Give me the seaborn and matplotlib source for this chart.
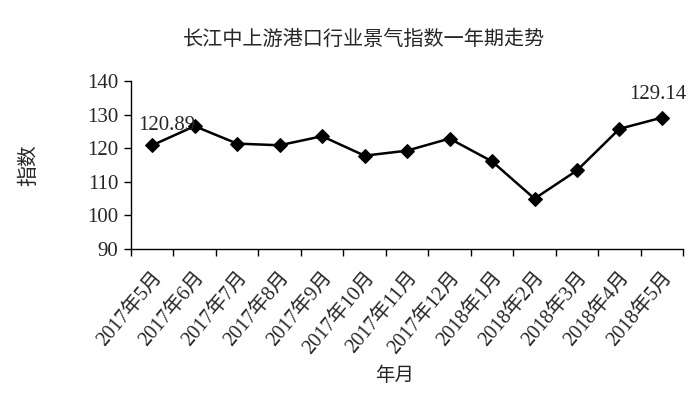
import matplotlib
matplotlib.use("Agg")
import matplotlib.pyplot as plt
import seaborn as sns
import pandas as pd
import numpy as np

months = ["2017年5月", "2017年6月", "2017年7月", "2017年8月", "2017年9月", "2017年10月",
          "2017年11月", "2017年12月", "2018年1月", "2018年2月", "2018年3月", "2018年4月", "2018年5月"]
values = [120.89, 126.6, 121.4, 120.9, 123.6, 117.8, 119.3, 122.9, 116.1, 105.0, 113.4, 125.8, 129.14]
yticks = [90, 100, 110, 120, 130, 140]
title = "长江中上游港口行业景气指数一年期走势"

sns.set_theme(style="white")
fam = ["Liberation Serif", "Noto Sans CJK SC", "DejaVu Sans"]
plt.rcParams["font.family"] = fam

df = pd.DataFrame({"month": months, "value": values, "pos": np.arange(len(months))})

fig = plt.figure(figsize=(7, 3.94), dpi=100)
ax = fig.add_axes([0.187, 0.368, 0.789, 0.426])
sns.lineplot(data=df, x="pos", y="value", ax=ax, color="black", linewidth=1.8,
             marker="D", markersize=7, markeredgecolor="black", markerfacecolor="black")

ax.set_xlim(-0.5, len(months) - 0.5)
ax.set_ylim(90, 140)
ax.set_yticks(yticks)
ax.set_yticklabels([str(t) for t in yticks], fontsize=15)

ax.set_xticks(np.arange(len(months) + 1) - 0.5)
ax.set_xticklabels([""] * (len(months) + 1))
ax.set_xticks(np.arange(len(months)), minor=True)
ax.set_xticklabels(months, minor=True, rotation=50, ha="right", va="top",
                   rotation_mode="anchor", fontsize=14.5)
ax.tick_params(axis="x", which="major", direction="out", length=5, width=1, color="black", bottom=True)
ax.tick_params(axis="x", which="minor", length=0, pad=14)
ax.tick_params(axis="y", direction="out", length=5, width=1, color="black", left=True, pad=4)

for s in ["top", "right"]:
    ax.spines[s].set_visible(False)
for s in ["left", "bottom"]:
    ax.spines[s].set_color("black")
    ax.spines[s].set_linewidth(1)

ax.set_xlabel("年月", fontsize=14)
ax.set_ylabel("指数", fontsize=15)
ax.xaxis.set_label_coords(0.478, -0.70)
ax.yaxis.set_label_coords(-0.165, 0.5)

ax.annotate(f"{values[0]:.2f}", (0, values[0]), xytext=(-10, 14), textcoords="offset points",
            fontsize=15, ha="left", va="center")
ax.annotate(f"{values[-1]:.2f}", (len(months) - 1, values[-1]), xytext=(-3, 17), textcoords="offset points",
            fontsize=15, ha="center", va="center")

fig.text(0.52, 0.898, title, fontsize=14.5, ha="center", va="center")

fig.savefig("out.png", dpi=100, facecolor="white")
